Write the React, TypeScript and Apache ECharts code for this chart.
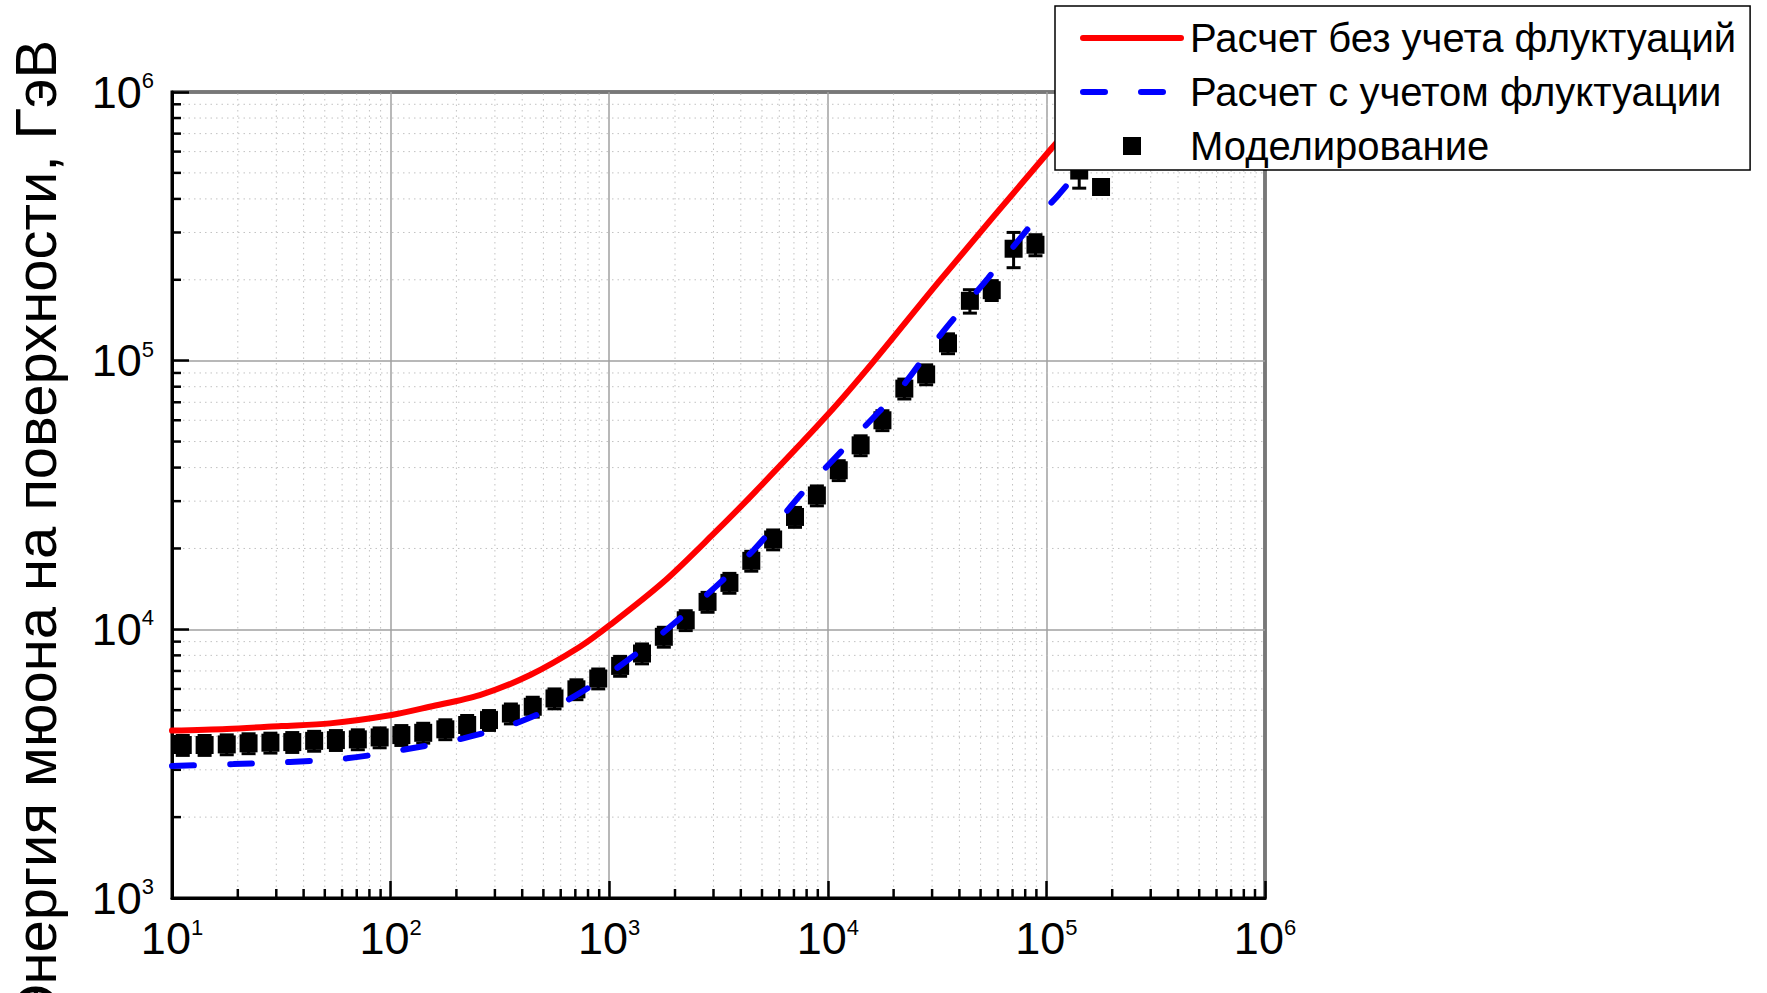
import React, { useEffect, useRef } from 'react';
import * as echarts from 'echarts';

// Axis ranges
const X_MIN = 10;
const X_MAX = 1e6;
const Y_MIN = 1e3;
const Y_MAX = 1e6;

// Red: Расчет без учета флуктуаций
const redX = [10, 17.8, 31.6, 52.8, 101, 151, 256, 435, 735, 1009, 1770, 2990, 4650, 10000, 16140, 32580, 103800, 141000];
const redY = [4200, 4260, 4365, 4467, 4800, 5150, 5690, 6760, 8610, 10380, 15000, 22600, 32500, 63000, 99000, 199000, 607000, 800000];

// Blue dashed: Расчет с учетом флуктуации
const blueX = [10, 19.1, 34.7, 63.1, 116, 215, 391, 708, 1337, 2427, 4571, 7727, 13300, 22130, 32600, 54100, 88700, 113000, 141000];
const blueY = [3100, 3150, 3210, 3310, 3570, 3930, 4530, 5690, 8130, 12130, 19700, 32500, 52000, 81000, 124000, 203000, 333000, 412000, 510000];

// Squares: Моделирование
const simX = [11.2, 14.1, 17.8, 22.4, 28.2, 35.5, 44.7, 56.2, 70.8, 89.1, 112, 141, 178, 224, 282, 355, 447, 562, 708, 891, 1122, 1413, 1778, 2239, 2818, 3548, 4467, 5623, 7079, 8913, 11220, 14130, 17780, 22390, 28180, 35480, 44670, 56230, 70790, 89130, 141300, 177800];
const simY = [3710, 3710, 3730, 3765, 3785, 3805, 3845, 3870, 3895, 3960, 4040, 4120, 4245, 4405, 4595, 4860, 5150, 5530, 5980, 6560, 7310, 8130, 9380, 10810, 12650, 14890, 17990, 21600, 26200, 31500, 39100, 48400, 60000, 78700, 88900, 116000, 167000, 183000, 261000, 270000, 510000, 443000];
// relative errors of the simulated points
const simErr = [0.085, 0.085, 0.085, 0.085, 0.085, 0.085, 0.085, 0.085, 0.085, 0.085, 0.085, 0.085, 0.085, 0.085, 0.085, 0.085, 0.085, 0.085, 0.085, 0.085, 0.085, 0.085, 0.085, 0.085, 0.085, 0.085, 0.085, 0.085, 0.085, 0.085, 0.085, 0.085, 0.085, 0.085, 0.085, 0.085, 0.1, 0.085, 0.15, 0.09, 0.14, 0.03];

// Minor tick multipliers and decades
const minorMultipliers = [2, 3, 4, 5, 6, 7, 8, 9];
const xDecades = [10, 100, 1000, 10000, 100000];
const yDecades = [1000, 10000, 100000];

const legendNames = ['Расчет без учета флуктуаций', 'Расчет с учетом флуктуации', 'Моделирование'];
const yTitle = 'Энергия мюона на поверхности, ГэВ';

const FONT = "'Liberation Sans', Arial, Helvetica, sans-serif";

export default function App() {
  const ref = useRef<HTMLDivElement>(null);

  useEffect(() => {
    if (!ref.current) return;
    const chart = echarts.init(ref.current, null, { renderer: 'svg' });

    const minorXData = xDecades.flatMap((d) => minorMultipliers.map((m) => [m * d, Y_MIN]));
    const minorYData = yDecades.flatMap((d) => minorMultipliers.map((m) => [X_MIN, m * d]));

    const labelFmt = (v: number) => `{b|10}{e|${Math.round(Math.log10(v))}}`;
    const rich = {
      b: { fontSize: 45, lineHeight: 45, padding: [7, 0, 7, 0], fontFamily: FONT, color: '#000' },
      e: { fontSize: 22, lineHeight: 22, verticalAlign: 'top', fontFamily: FONT, color: '#000' },
    };

    const axisCommon = {
      type: 'log',
      logBase: 10,
      axisLine: { show: true, lineStyle: { color: '#000', width: 3 } },
      axisTick: { show: true, inside: true, length: 17, lineStyle: { color: '#000', width: 2.5 } },
      splitLine: { show: true, lineStyle: { color: '#a0a0a0', width: 1.5 } },
      minorTick: { show: false },
      minorSplitLine: { show: false },
    };

    const dotted = { stroke: '#c2c2c2', lineWidth: 1, lineDash: [1.5, 4] };

    const option = {
      animation: false,
      backgroundColor: '#fff',
      textStyle: { fontFamily: FONT },
      grid: {
        left: 172,
        top: 92,
        width: 1093,
        height: 806,
        show: true,
        borderColor: '#000',
        borderWidth: 3,
        backgroundColor: 'transparent',
      },
      xAxis: {
        ...axisCommon,
        min: X_MIN,
        max: X_MAX,
        splitNumber: 5,
        axisLabel: { formatter: labelFmt, rich, margin: 18, color: '#000' },
      },
      yAxis: {
        ...axisCommon,
        min: Y_MIN,
        max: Y_MAX,
        splitNumber: 3,
        axisLabel: { formatter: labelFmt, rich, margin: 18, color: '#000' },
      },
      legend: {
        data: [
          { name: legendNames[0], itemStyle: { opacity: 0 } },
          { name: legendNames[1], itemStyle: { opacity: 0 } },
          { name: legendNames[2], icon: 'path://M0,0L10,0L10,10L0,10Z' },
        ],
        orient: 'vertical',
        left: 1055,
        top: 6,
        padding: [12, 14, 4, 25],
        itemGap: 14,
        itemWidth: 98,
        itemHeight: 18,
        symbolKeepAspect: true,
        backgroundColor: '#fff',
        borderColor: '#000',
        borderWidth: 1.5,
        borderRadius: 0,
        z: 20,
        selectedMode: false,
        textStyle: { fontSize: 40, lineHeight: 40, color: '#000', fontFamily: FONT, padding: [0, 0, 0, 4] },
        lineStyle: { width: 'inherit', type: 'inherit' },
      },
      graphic: [
        {
          type: 'text',
          x: 35,
          y: 533,
          rotation: Math.PI / 2,
          z: 20,
          style: {
            text: yTitle,
            fontSize: 58,
            fontFamily: FONT,
            fill: '#000',
            align: 'center',
            verticalAlign: 'middle',
          },
        },
      ],
      series: [
        {
          name: 'minorX',
          type: 'custom',
          silent: true,
          z: 1,
          data: minorXData,
          encode: { x: 0, y: 1 },
          renderItem: (_p: any, api: any) => {
            const v = api.value(0);
            const p0 = api.coord([v, Y_MIN]);
            const p1 = api.coord([v, Y_MAX]);
            return {
              type: 'group',
              children: [
                { type: 'line', shape: { x1: p0[0], y1: p0[1], x2: p1[0], y2: p1[1] }, style: dotted },
                { type: 'line', shape: { x1: p0[0], y1: p0[1], x2: p0[0], y2: p0[1] - 9 }, style: { stroke: '#000', lineWidth: 2.5 } },
              ],
            };
          },
        },
        {
          name: 'minorY',
          type: 'custom',
          silent: true,
          z: 1,
          data: minorYData,
          encode: { x: 0, y: 1 },
          renderItem: (_p: any, api: any) => {
            const v = api.value(1);
            const p0 = api.coord([X_MIN, v]);
            const p1 = api.coord([X_MAX, v]);
            return {
              type: 'group',
              children: [
                { type: 'line', shape: { x1: p0[0], y1: p0[1], x2: p1[0], y2: p1[1] }, style: dotted },
                { type: 'line', shape: { x1: p0[0], y1: p0[1], x2: p0[0] + 9, y2: p0[1] }, style: { stroke: '#000', lineWidth: 2.5 } },
              ],
            };
          },
        },
        {
          name: 'errors',
          type: 'custom',
          silent: true,
          z: 3,
          data: simX.map((x, i) => [x, simY[i], simErr[i]]),
          encode: { x: 0, y: 1 },
          renderItem: (_p: any, api: any) => {
            const x = api.value(0);
            const y = api.value(1);
            const e = api.value(2);
            const lo = api.coord([x, y * (1 - e)]);
            const hi = api.coord([x, y * (1 + e)]);
            const cw = 7;
            const st = { stroke: '#000', lineWidth: 3 };
            return {
              type: 'group',
              children: [
                { type: 'line', shape: { x1: lo[0], y1: lo[1], x2: hi[0], y2: hi[1] }, style: st },
                { type: 'line', shape: { x1: lo[0] - cw, y1: lo[1], x2: lo[0] + cw, y2: lo[1] }, style: st },
                { type: 'line', shape: { x1: hi[0] - cw, y1: hi[1], x2: hi[0] + cw, y2: hi[1] }, style: st },
              ],
            };
          },
        },
        {
          name: legendNames[2],
          type: 'scatter',
          z: 3,
          symbol: 'rect',
          symbolSize: 18,
          itemStyle: { color: '#000', opacity: 1 },
          data: simX.map((x, i) => [x, simY[i]]),
        },
        {
          name: legendNames[0],
          type: 'line',
          z: 4,
          symbol: 'none',
          smooth: 0.3,
          lineStyle: { color: '#ff0000', width: 6, cap: 'round' },
          itemStyle: { color: '#ff0000' },
          data: redX.map((x, i) => [x, redY[i]]),
        },
        {
          name: legendNames[1],
          type: 'line',
          z: 4,
          symbol: 'none',
          smooth: 0.3,
          lineStyle: { color: '#0000ff', width: 6, type: [22, 36], cap: 'round' },
          itemStyle: { color: '#0000ff' },
          data: blueX.map((x, i) => [x, blueY[i]]),
        },
      ],
    };

    chart.setOption(option as any);
    return () => {
      chart.dispose();
    };
  }, []);

  return (
    <div
      ref={ref}
      style={{ position: 'fixed', left: 0, top: 0, width: 1767, height: 993, background: '#fff' }}
    />
  );
}
